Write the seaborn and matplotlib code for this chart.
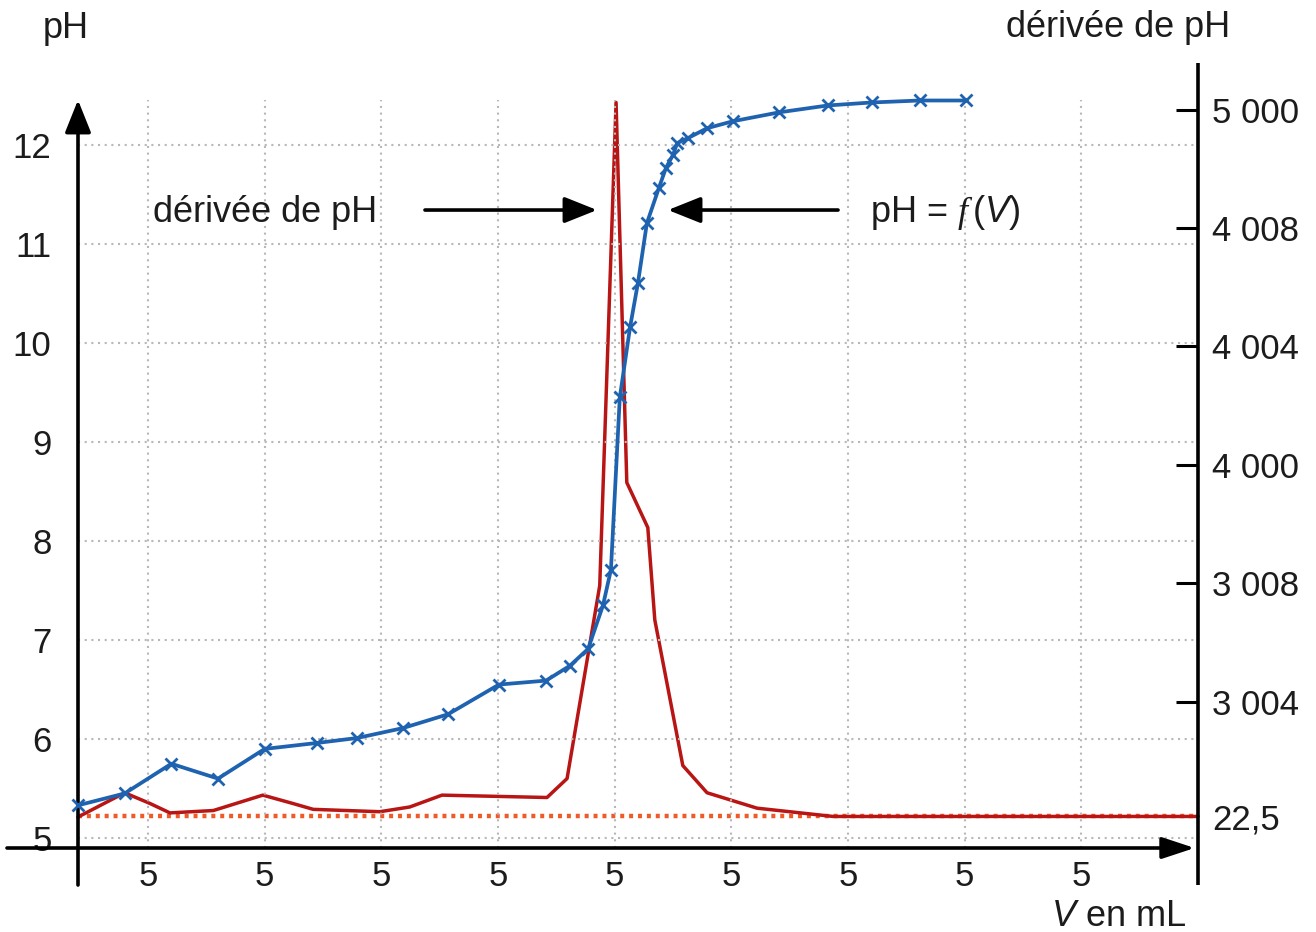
import numpy as np
import pandas as pd
import seaborn as sns
import matplotlib
matplotlib.use("Agg")
import matplotlib.pyplot as plt

# ---------------- data ----------------
# pH = f(V)  (V in mL)
V_ph = [0, 1, 2, 3, 4, 5.12, 5.98, 6.96, 7.93, 9.02, 10.03, 10.54, 10.93, 11.25,
        11.42, 11.61, 11.83, 12.0, 12.19, 12.45, 12.6, 12.75, 12.84, 13.07, 13.48,
        14.03, 15.02, 16.07, 17.01, 18.04, 19.03]
pH = [5.33, 5.45, 5.75, 5.60, 5.90, 5.96, 6.01, 6.11, 6.25, 6.55, 6.59, 6.74, 6.91,
      7.35, 7.71, 9.45, 10.16, 10.61, 11.21, 11.57, 11.77, 11.90, 12.02, 12.07,
      12.17, 12.24, 12.33, 12.40, 12.43, 12.45, 12.45]

# derivative of pH (expressed on the right-axis scale)
V_d = [0, 1.0, 1.54, 1.97, 2.9, 3.96, 4.6, 5.04, 6.47, 7.11, 7.8, 10.05, 10.48,
       11.18, 11.53, 11.76, 12.21, 12.36, 12.96, 13.48, 14.55, 16.18, 24]
dpH = [0.025, 0.23, 0.14, 0.06, 0.08, 0.21, 0.14, 0.09, 0.07, 0.11, 0.21, 0.19, 0.35,
       1.98, 6.06, 2.85, 2.47, 1.69, 0.46, 0.23, 0.10, 0.03, 0.03]

ref_V = [0, 24]
ref_d = [0.03, 0.03]

x_ticks = [1.5, 4, 6.5, 9, 11.5, 14, 16.5, 19, 21.5]
x_labels = ["5"] * 9
y_ticks = [5, 6, 7, 8, 9, 10, 11, 12]
y_labels = ["5", "6", "7", "8", "9", "10", "11", "12"]
r_ticks = [0.03, 1, 2, 3, 4, 5, 6]
r_labels = ["22,5", "3 004", "3 008", "4 000", "4 004", "4 008", "5 000"]

# ---------------- style ----------------
sns.set_theme(style="white")
plt.rcParams["font.family"] = ["Liberation Sans", "DejaVu Sans"]
plt.rcParams["mathtext.fontset"] = "custom"
plt.rcParams["mathtext.rm"] = "Liberation Sans"
plt.rcParams["mathtext.it"] = "Liberation Sans:italic"
plt.rcParams["mathtext.cal"] = "Liberation Serif:italic"

TXT = "#1c1c1c"
BLUE = "#1f63b0"
RED = "#b81515"
ORANGE = "#ee5a28"
FS_T = 25   # tick labels
FS = 26     # texts

W, H = 1316, 932
fig = plt.figure(figsize=(W / 100, H / 100), dpi=100)
L, R, T, B = 78, 1198, 100, 848
ax = fig.add_axes([L / W, 1 - B / H, (R - L) / W, (B - T) / H])

ax.set_xlim(0, 24)
ax.set_ylim(4.899, 12.455)

# grid
ax.set_xticks(x_ticks)
ax.set_xticklabels(x_labels)
ax.set_yticks(y_ticks)
ax.set_yticklabels(y_labels)
ax.grid(True, color="#b8b8b8", linestyle=(0, (1, 2.2)), linewidth=1.5)
ax.tick_params(axis="x", length=0, pad=9, labelsize=FS_T, labelcolor=TXT)
ax.tick_params(axis="y", length=0, pad=19, labelsize=FS_T, labelcolor=TXT)
for s in ax.spines.values():
    s.set_visible(False)

# pH curve
sns.lineplot(x=V_ph, y=pH, ax=ax, color=BLUE, linewidth=2.7, marker="x",
             markersize=9, markeredgewidth=2.0, markeredgecolor=BLUE,
             clip_on=False, zorder=5)

# right axis: derivative
ax2 = ax.twinx()
ax2.set_ylim(-0.2365, 6.081)
sns.lineplot(x=ref_V, y=ref_d, ax=ax2, color=ORANGE, linewidth=3.2,
             linestyle=(0, (0.9, 1.1)), clip_on=False, zorder=2)
sns.lineplot(x=V_d, y=dpH, ax=ax2, color=RED, linewidth=2.5, clip_on=False, zorder=3)
ax2.set_xlim(0, 24)
ax2.set_yticks(r_ticks)
ax2.set_yticklabels(r_labels)
ax2.tick_params(axis="y", direction="in", length=16, width=2.2, pad=10,
                labelsize=FS_T, labelcolor=TXT, color="black")
ax2.yaxis.get_major_ticks()[0].tick2line.set_visible(False)
ax2.grid(False)
for s in ax2.spines.values():
    s.set_visible(False)
ax.set_xlabel("")
ax.set_ylabel("")
ax2.set_ylabel("")
ax.set_zorder(2)
ax2.set_zorder(1)
ax.patch.set_visible(False)

# axis lines with arrows
def arrow(ax_, p0, p1, hl=1.0, hw=0.4):
    ax_.annotate("", xy=p1, xytext=p0, xycoords="axes fraction",
                 textcoords="axes fraction",
                 arrowprops=dict(arrowstyle=f"-|>,head_length={hl},head_width={hw}",
                                 lw=2.6, color="black", shrinkA=0, shrinkB=0,
                                 mutation_scale=20),
                 annotation_clip=False)

arrow(ax, (0, -0.0495), (0, 1.0))
arrow(ax, (-0.0634, 0.0), (0.997, 0.0), hl=1.0, hw=0.33)
ax.plot([1, 1], [-0.0495, 1.0495], transform=ax.transAxes, color="black",
        lw=2.6, clip_on=False, solid_capstyle="butt")

# annotations
arrow(ax, (0.3098, 0.8529), (0.4634, 0.8529))
arrow(ax, (0.6786, 0.8529), (0.5268, 0.8529))
ax.text(0.067, 0.8369, "dérivée de pH", transform=ax.transAxes, fontsize=FS,
        color=TXT, ha="left", va="baseline")
ax.text(0.7071, 0.8369, r"pH = $\mathcal{f}\,(V)$", transform=ax.transAxes,
        fontsize=FS, color=TXT, ha="left", va="baseline")

# axis titles
fig.text(43 / W, 1 - 38 / H, "pH", fontsize=FS, color=TXT, ha="left", va="baseline")
fig.text(1230 / W, 1 - 37 / H, "dérivée de pH", fontsize=FS, color=TXT,
         ha="right", va="baseline")
fig.text(1186 / W, 1 - 926 / H, r"$V$ en mL", fontsize=FS, color=TXT,
         ha="right", va="baseline")

fig.savefig("out.png", dpi=100, facecolor="white")
